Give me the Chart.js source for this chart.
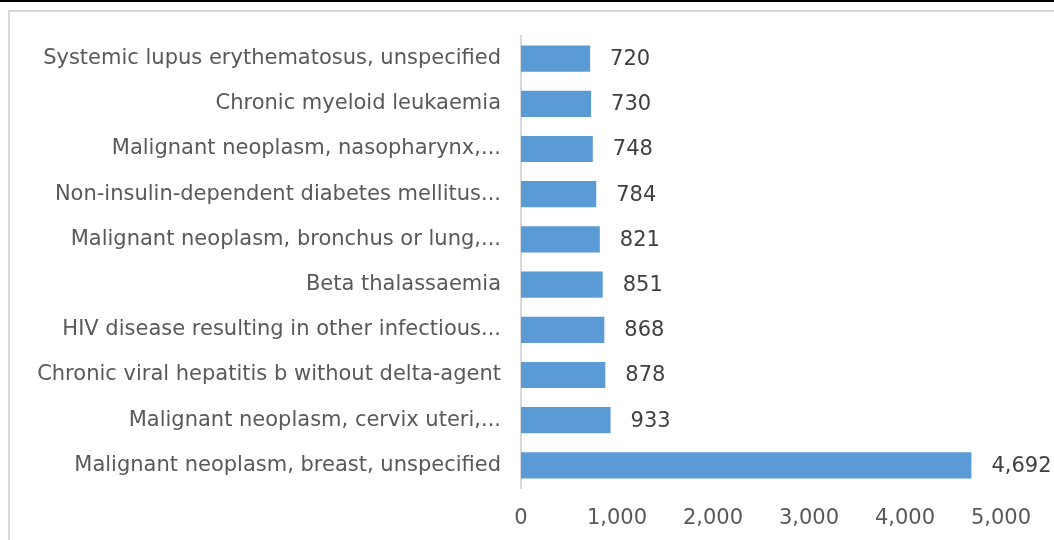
<!DOCTYPE html>
<html>
<head>
<meta charset="utf-8">
<script src="https://cdn.jsdelivr.net/npm/chart.js@4.4.1/dist/chart.umd.min.js"></script>
<style>
  html, body { margin: 0; padding: 0; background: #fff; }
  #wrapper { position: relative; width: 1054px; height: 540px; overflow: hidden; }
  #topline { position: absolute; left: 0; top: 0; width: 1054px; height: 2px; background: #000; }
  #frame { position: absolute; left: 8px; top: 10px; width: 1060px; height: 540px;
           border-left: 2px solid #d9d9d9; border-top: 2px solid #d9d9d9; }
  #chart { position: absolute; left: 0; top: 0; }
</style>
</head>
<body>
<div id="wrapper">
  <div id="topline"></div>
  <div id="frame"></div>
  <canvas id="chart" width="1054" height="540"></canvas>
</div>
<script>
var categories = [
  "Systemic lupus erythematosus, unspecified",
  "Chronic myeloid leukaemia",
  "Malignant neoplasm, nasopharynx,...",
  "Non-insulin-dependent diabetes mellitus...",
  "Malignant neoplasm, bronchus or lung,...",
  "Beta thalassaemia",
  "HIV disease resulting in other infectious...",
  "Chronic viral hepatitis b without delta-agent",
  "Malignant neoplasm, cervix uteri,...",
  "Malignant neoplasm, breast, unspecified"
];
var cases = [720, 730, 748, 784, 821, 851, 868, 878, 933, 4692];
var xTicks = [0, 1000, 2000, 3000, 4000, 5000];

var FONT = "'DejaVu Sans', sans-serif";
var FONT_SIZE = 21;

// value labels at the end of each bar
var valueLabels = {
  id: 'valueLabels',
  afterDatasetsDraw: function(chart) {
    var ctx = chart.ctx;
    var meta = chart.getDatasetMeta(0);
    ctx.save();
    ctx.font = FONT_SIZE + 'px ' + FONT;
    ctx.fillStyle = '#404040';
    ctx.textAlign = 'left';
    ctx.textBaseline = 'middle';
    meta.data.forEach(function(bar, i) {
      ctx.fillText(cases[i].toLocaleString('en-US'), bar.x + 20, bar.y + 1);
    });
    ctx.restore();
  }
};

new Chart(document.getElementById('chart'), {
  type: 'bar',
  data: {
    labels: categories,
    datasets: [{
      data: cases,
      backgroundColor: '#5b9bd5',
      borderColor: '#5b9bd5',
      borderWidth: 0,
      barPercentage: 0.58,
      categoryPercentage: 1.0
    }]
  },
  options: {
    indexAxis: 'y',
    responsive: false,
    animation: false,
    layout: { padding: { left: 10, right: 53, top: 36, bottom: 0 } },
    plugins: {
      legend: { display: false },
      tooltip: { enabled: false }
    },
    scales: {
      x: {
        type: 'linear',
        min: 0,
        max: 5000,
        afterBuildTicks: function(scale) {
          scale.ticks = xTicks.map(function(v) { return { value: v }; });
        },
        afterFit: function(scale) { scale.height = 52; },
        grid: { display: false, drawTicks: false },
        border: { display: false },
        ticks: {
          padding: 18,
          color: '#595959',
          font: { family: FONT, size: FONT_SIZE },
          callback: function(v) { return v.toLocaleString('en-US'); }
        }
      },
      y: {
        afterFit: function(scale) { scale.width = 511; },
        grid: { display: false, drawTicks: false },
        border: { display: true, color: '#d9d9d9', width: 2 },
        ticks: {
          padding: 20,
          color: '#595959',
          font: { family: FONT, size: FONT_SIZE }
        }
      }
    }
  },
  plugins: [valueLabels]
});
</script>
</body>
</html>
